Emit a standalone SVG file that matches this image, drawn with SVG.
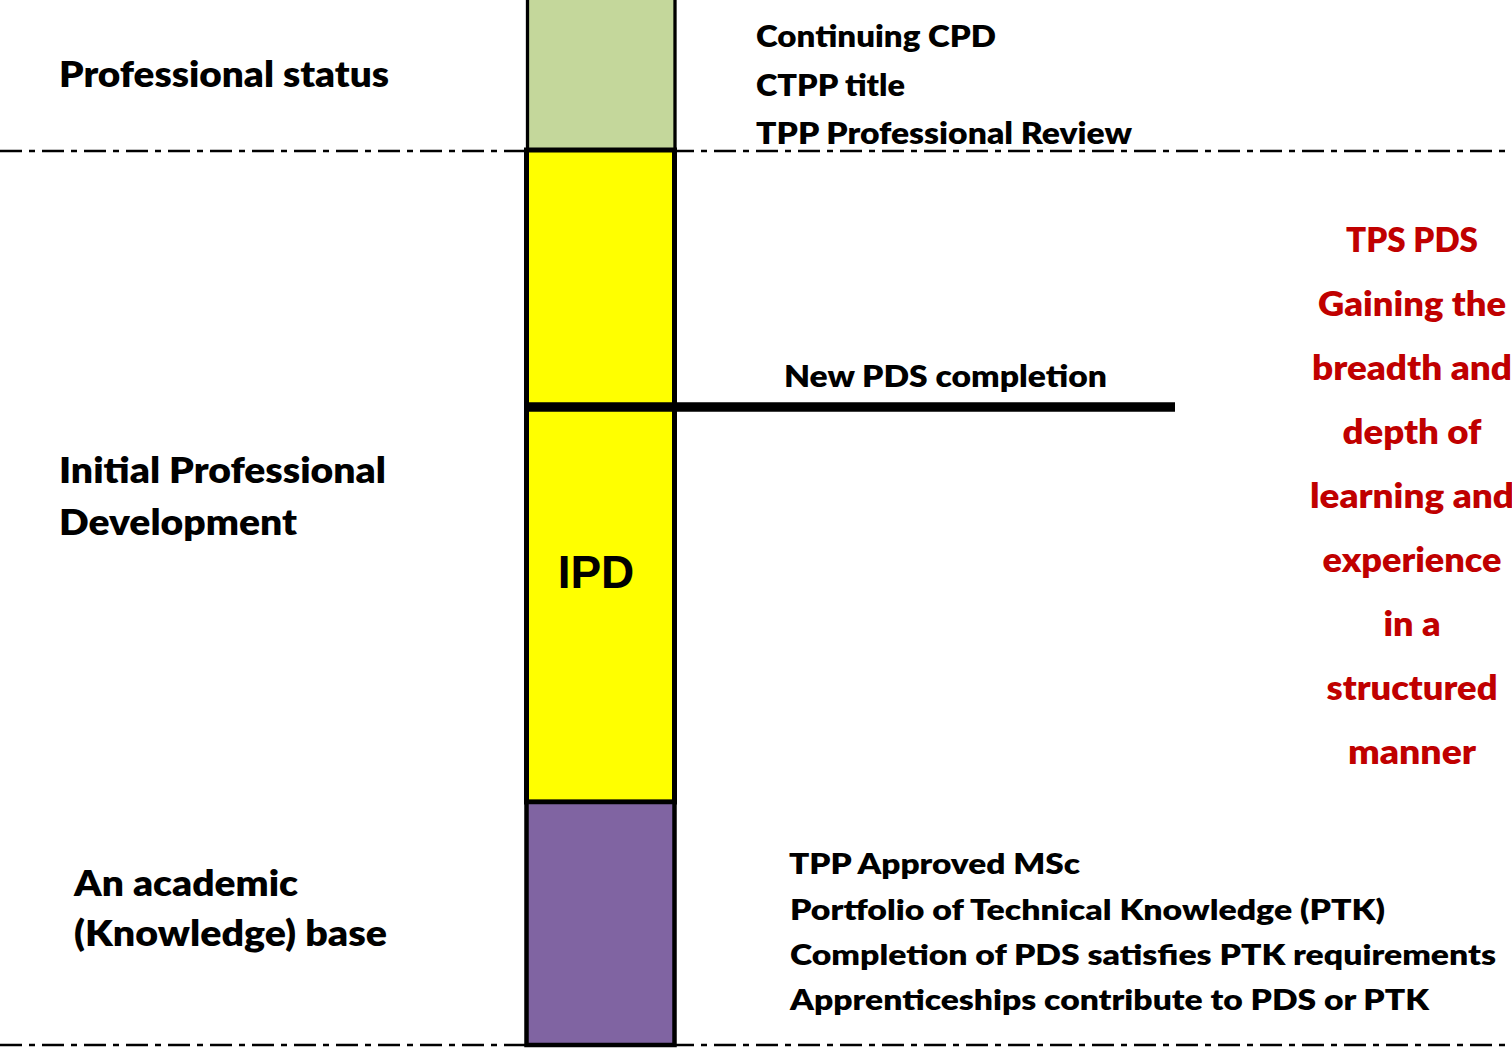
<svg xmlns="http://www.w3.org/2000/svg" width="1512" height="1048" viewBox="0 0 1512 1048">
<style>
.t{font-family:Lato,"Open Sans","Liberation Sans",sans-serif;font-weight:800;fill:#000}
.red{fill:#C00000;text-anchor:middle}
.sep{stroke:#000;stroke-width:2.5;stroke-dasharray:22 7 6 7;fill:none}
.box{stroke:#000}
</style>
<rect width="1512" height="1048" fill="#fff"/>
<g id="separators">
<line class="sep" x1="0" y1="151" x2="1512" y2="151"/>
<line class="sep" x1="0" y1="1045" x2="1512" y2="1045"/>
</g>
<g id="labels-left">
<text class="t" x="59" y="87" font-size="35" textLength="330" lengthAdjust="spacingAndGlyphs">Professional status</text>
<text class="t" x="59" y="483" font-size="35" textLength="327" lengthAdjust="spacingAndGlyphs">Initial Professional</text>
<text class="t" x="59" y="535" font-size="35" textLength="238" lengthAdjust="spacingAndGlyphs">Development</text>
<text class="t" x="74" y="896" font-size="35" textLength="224" lengthAdjust="spacingAndGlyphs">An academic</text>
<text class="t" x="74" y="946" font-size="35" textLength="313" lengthAdjust="spacingAndGlyphs">(Knowledge) base</text>
</g>
<g id="node-professional">
<rect class="box" x="527.5" y="-5" width="147.5" height="155" fill="#C4D79B" stroke-width="3.3"/>
</g>
<g id="node-ipd">
<rect class="box" x="526.5" y="150" width="148" height="257" fill="#FFFF00" stroke-width="5"/>
<rect class="box" x="526.5" y="407" width="148" height="395" fill="#FFFF00" stroke-width="5"/>
<text x="596" y="588" font-family="'Liberation Sans',Arial,sans-serif" font-weight="700" font-size="46" text-anchor="middle">IPD</text>
</g>
<g id="node-academic">
<rect class="box" x="526.5" y="802" width="148" height="243" fill="#8064A2" stroke-width="4.5"/>
</g>
<g id="connectors">
<line x1="524" y1="407" x2="1175" y2="407" stroke="#000" stroke-width="9.5"/>
</g>
<g id="labels-right">
<text class="t" x="756" y="47" font-size="30" textLength="240" lengthAdjust="spacingAndGlyphs">Continuing CPD</text>
<text class="t" x="756" y="96" font-size="30" textLength="149" lengthAdjust="spacingAndGlyphs">CTPP title</text>
<text class="t" x="756" y="144" font-size="30" textLength="376" lengthAdjust="spacingAndGlyphs">TPP Professional Review</text>
<text class="t" x="784" y="387" font-size="30" textLength="323" lengthAdjust="spacingAndGlyphs">New PDS completion</text>
<text class="t" x="789" y="874" font-size="29" textLength="291" lengthAdjust="spacingAndGlyphs">TPP Approved MSc</text>
<text class="t" x="790" y="920" font-size="29" textLength="595" lengthAdjust="spacingAndGlyphs">Portfolio of Technical Knowledge (PTK)</text>
<text class="t" x="790" y="965" font-size="29" textLength="706" lengthAdjust="spacingAndGlyphs">Completion of PDS satisfies PTK requirements</text>
<text class="t" x="790" y="1010" font-size="29" textLength="639" lengthAdjust="spacingAndGlyphs">Apprenticeships contribute to PDS or PTK</text>
</g>
<g id="labels-red">
<text class="t red" x="1412" y="252" font-size="33.5" textLength="132" lengthAdjust="spacingAndGlyphs">TPS PDS</text>
<text class="t red" x="1412" y="316" font-size="33.5" textLength="188" lengthAdjust="spacingAndGlyphs">Gaining the</text>
<text class="t red" x="1412" y="380" font-size="33.5" textLength="200" lengthAdjust="spacingAndGlyphs">breadth and</text>
<text class="t red" x="1412" y="444" font-size="33.5" textLength="139" lengthAdjust="spacingAndGlyphs">depth of</text>
<text class="t red" x="1412" y="508" font-size="33.5" textLength="204" lengthAdjust="spacingAndGlyphs">learning and</text>
<text class="t red" x="1412" y="572" font-size="33.5" textLength="179" lengthAdjust="spacingAndGlyphs">experience</text>
<text class="t red" x="1412" y="636" font-size="33.5" textLength="57" lengthAdjust="spacingAndGlyphs">in a</text>
<text class="t red" x="1412" y="700" font-size="33.5" textLength="171" lengthAdjust="spacingAndGlyphs">structured</text>
<text class="t red" x="1412" y="764" font-size="33.5" textLength="128" lengthAdjust="spacingAndGlyphs">manner</text>
</g>
</svg>
